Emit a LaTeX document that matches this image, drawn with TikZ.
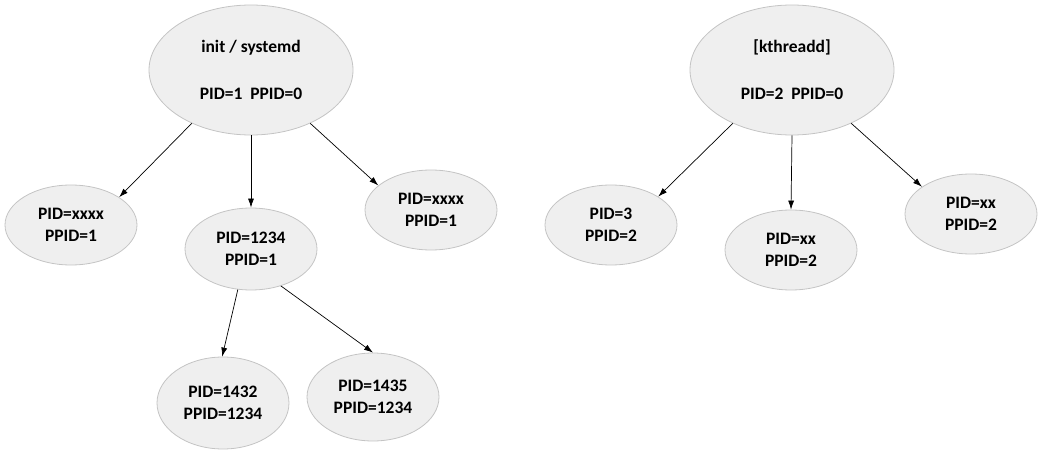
\documentclass[tikz,border=0pt]{standalone}
\usepackage{fontspec}
\setmainfont{Carlito}
\usetikzlibrary{shapes.geometric,arrows.meta}
\definecolor{nodefill}{HTML}{EFEFEF}
\definecolor{nodeline}{HTML}{C4C4C4}
\tikzset{
  proc/.style={ellipse, draw=nodeline, fill=nodefill, line width=0.8pt, inner sep=0pt,
    align=center, font=\bfseries\fontsize{17.5}{22}\selectfont},
  big/.style={proc, minimum width=204pt, minimum height=130pt},
  small/.style={proc, minimum width=132pt, minimum height=80pt},
  tall/.style={proc, minimum width=132pt, minimum height=90pt},
  link/.style={-{Latex[length=9pt,width=6pt]}, line width=0.7pt, black}
}
\begin{document}
\begin{tikzpicture}[x=1pt,y=-1pt]
\useasboundingbox (0,0) rectangle (1043,457);
% left tree
\node[big] (init) at (251,70) {init / systemd\\[25pt]PID=1\ \ PPID=0};
\node[small] (a1) at (71,225) {PID=xxxx\\PPID=1};
\node[small, minimum height=82pt] (a2) at (251,249) {PID=1234\\PPID=1};
\node[small] (a3) at (431,210) {PID=xxxx\\PPID=1};
\node[tall, minimum height=92pt] (b1) at (223,403) {PID=1432\\PPID=1234};
\node[tall, minimum height=88pt] (b2) at (373,397) {PID=1435\\PPID=1234};
% right tree
\node[big] (kt) at (792,70) {[kthreadd]\\[25pt]PID=2\ \ PPID=0};
\node[small] (k1) at (611,225) {PID=3\\PPID=2};
\node[small] (k2) at (791,250) {PID=xx\\PPID=2};
\node[small] (k3) at (971,214) {PID=xx\\PPID=2};
% connectors
\draw[link] (init.222) -- (a1.30);
\draw[link] (init.south) -- (a2.north);
\draw[link] (init.318) -- (a3.155);
\draw[link] (a2.252) -- (b1.91);
\draw[link] (a2.309) -- (b2.90);
\draw[link] (kt.222) -- (k1.31);
\draw[link] (kt.south) -- (k2.north);
\draw[link] (kt.318) -- (k3.151);
\end{tikzpicture}
\end{document}
